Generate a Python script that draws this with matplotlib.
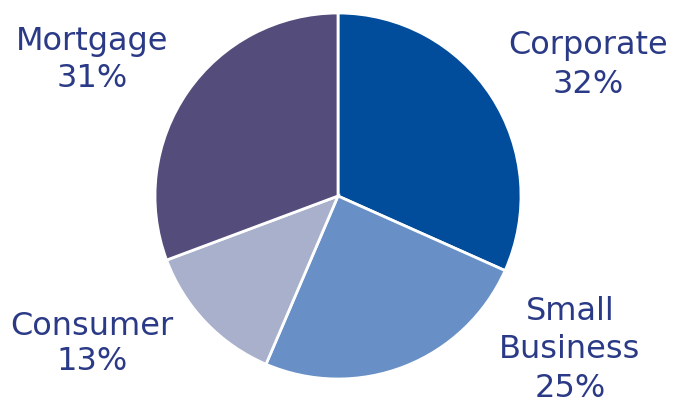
import matplotlib
matplotlib.use("Agg")
import matplotlib.pyplot as plt

categories = ["Corporate", "Small\nBusiness", "Consumer", "Mortgage"]
shares = [32, 25, 13, 31]
colors = ["#014C9B", "#6890C6", "#A9B0CB", "#544C7B"]

W, H = 674, 400
fig = plt.figure(figsize=(W / 100, H / 100), dpi=100)
ax = fig.add_axes([0, 0, 1, 1])

ax.pie(shares, colors=colors, startangle=90, counterclock=False,
       center=(338, H - 196), radius=183,
       wedgeprops=dict(edgecolor="white", linewidth=2))

ax.set_xlim(0, W)
ax.set_ylim(0, H)
ax.set_aspect("equal")
ax.axis("off")

# label anchor (pixel coords from top-left) and line spacing per label
label_layout = [((588, 65), 1.37), ((570, 350), 1.3),
                ((92, 344), 1.2), ((92, 60), 1.24)]
for name, val, ((x, y), ls) in zip(categories, shares, label_layout):
    ax.text(x, H - y, f"{name}\n{val}%", ha="center", va="center",
            fontsize=23, color="#2B3A86", family="DejaVu Sans",
            linespacing=ls)

fig.savefig("out.png", dpi=100)
